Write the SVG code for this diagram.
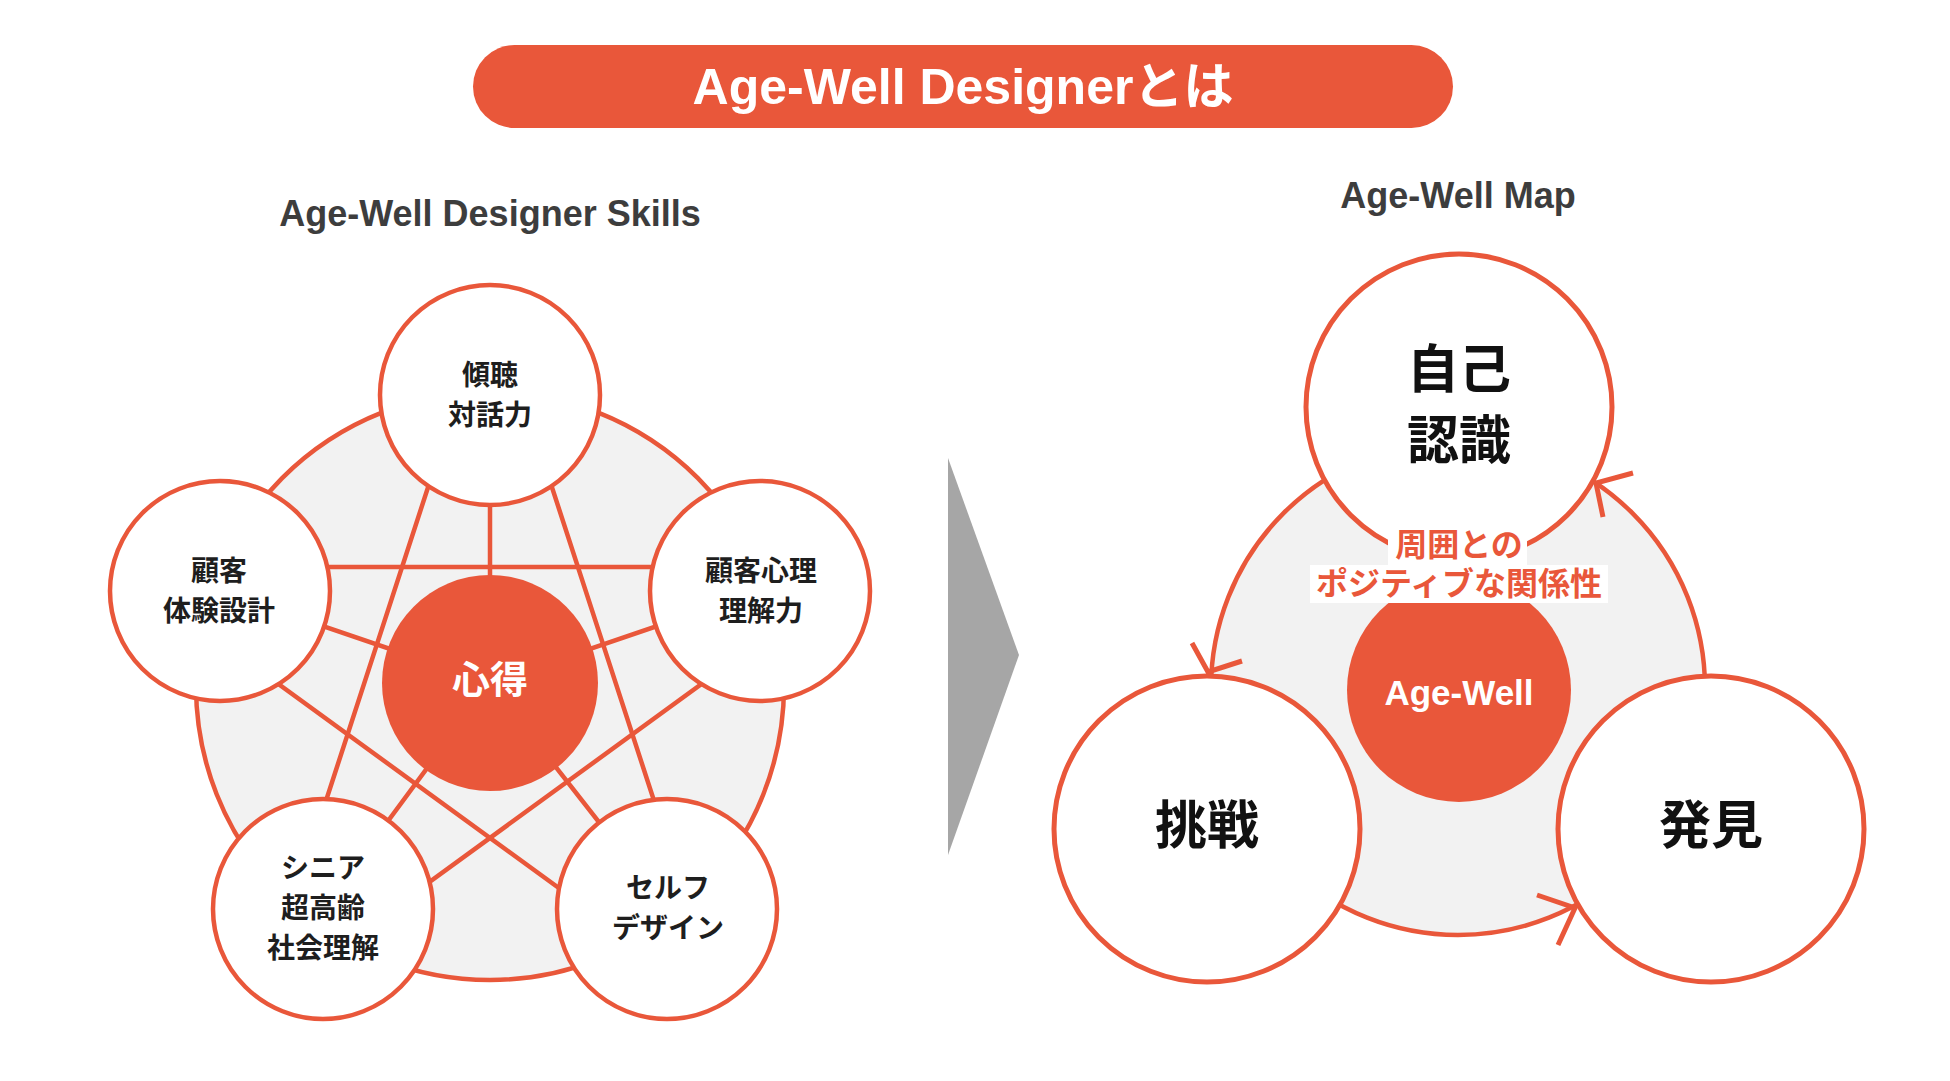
<svg xmlns="http://www.w3.org/2000/svg" width="1950" height="1081" viewBox="0 0 1950 1081">
<style>
.ln{stroke:#E9573A;stroke-width:4.5;fill:none;stroke-linecap:round}
.node{fill:#ffffff;stroke:#E9573A;stroke-width:4.5}
.bignode{fill:#ffffff;stroke:#E9573A;stroke-width:5}
.core{fill:#E9573A}
.bg{fill:#F2F2F2;stroke:#E9573A;stroke-width:4.5}
.lbl{font-family:"Noto Sans CJK JP","Noto Sans",sans-serif;font-weight:700;font-size:28px;fill:#1e1e1e;text-anchor:middle}
.big{font-family:"Noto Sans CJK JP","Noto Sans",sans-serif;font-weight:700;font-size:52px;fill:#111111;text-anchor:middle}
.head{font-family:"Liberation Sans","Noto Sans CJK JP",sans-serif;font-weight:700;font-size:36px;fill:#3d3d3d;text-anchor:middle}
.maplbl{font-family:"Noto Sans CJK JP",sans-serif;font-weight:700;font-size:32px;fill:#E9573A;text-anchor:middle}
.arrow{stroke:#E9573A;stroke-width:5;fill:none;stroke-linecap:butt;stroke-linejoin:miter}
</style>

<g id="title">
<rect x="473" y="45" width="980" height="83" rx="41.5" fill="#E9573A"/>
<text x="963" y="104" font-family="'Liberation Sans','Noto Sans CJK JP',sans-serif" font-weight="700" font-size="50" fill="#ffffff" text-anchor="middle">Age-Well Designerとは</text>
</g>

<g id="heading-skills"><text class="head" x="490" y="226">Age-Well Designer Skills</text></g>
<g id="heading-map"><text class="head" x="1458" y="208">Age-Well Map</text></g>

<!-- Left diagram -->
<g id="skills-background"><circle class="bg" cx="490" cy="686" r="294"/></g>
<g id="skills-connectors">
<line class="ln" x1="461" y1="386" x2="294" y2="899"/>
<line class="ln" x1="519" y1="386" x2="686" y2="899"/>
<line class="ln" x1="220" y1="567" x2="760" y2="567"/>
<line class="ln" x1="196" y1="624" x2="633" y2="942"/>
<line class="ln" x1="784" y1="624" x2="347" y2="942"/>
<line class="ln" x1="490" y1="683" x2="490" y2="395"/>
<line class="ln" x1="490" y1="683" x2="220" y2="591"/>
<line class="ln" x1="490" y1="683" x2="760" y2="591"/>
<line class="ln" x1="490" y1="683" x2="323" y2="909"/>
<line class="ln" x1="490" y1="683" x2="667" y2="909"/>
</g>
<g id="node-kokoroe">
<circle class="core" cx="490" cy="683" r="108"/>
<text x="490" y="693" font-family="'Noto Sans CJK JP',sans-serif" font-weight="700" font-size="38" fill="#ffffff" text-anchor="middle">心得</text>
</g>
<g id="node-keicho">
<circle class="node" cx="490" cy="395" r="110"/>
<text class="lbl" x="490" y="385">傾聴</text>
<text class="lbl" x="490" y="425">対話力</text>
</g>
<g id="node-kokyaku-taiken">
<circle class="node" cx="220" cy="591" r="110"/>
<text class="lbl" x="219" y="581">顧客</text>
<text class="lbl" x="219" y="621">体験設計</text>
</g>
<g id="node-kokyaku-shinri">
<circle class="node" cx="760" cy="591" r="110"/>
<text class="lbl" x="761" y="581">顧客心理</text>
<text class="lbl" x="761" y="621">理解力</text>
</g>
<g id="node-senior">
<circle class="node" cx="323" cy="909" r="110"/>
<text class="lbl" x="323" y="878">シニア</text>
<text class="lbl" x="323" y="918">超高齢</text>
<text class="lbl" x="323" y="958">社会理解</text>
</g>
<g id="node-selfdesign">
<circle class="node" cx="667" cy="909" r="110"/>
<text class="lbl" x="668" y="898">セルフ</text>
<text class="lbl" x="668" y="938">デザイン</text>
</g>

<!-- Middle arrow -->
<g id="transition-arrow"><polygon points="948,458 1019,655 948,855" fill="#A6A6A6"/></g>

<!-- Right diagram -->
<g id="map-background"><circle class="bg" cx="1458" cy="688" r="247" stroke-width="5"/></g>
<g id="node-agewell">
<circle class="core" cx="1459" cy="690" r="112"/>
<text x="1459" y="705" font-family="'Liberation Sans',sans-serif" font-weight="700" font-size="35" fill="#ffffff" text-anchor="middle">Age-Well</text>
</g>
<g id="node-jiko">
<circle class="bignode" cx="1459" cy="407" r="153"/>
<text class="big" x="1459" y="388">自己</text>
<text class="big" x="1459" y="459">認識</text>
</g>
<g id="node-chosen">
<circle class="bignode" cx="1207" cy="829" r="153"/>
<text class="big" x="1207" y="844">挑戦</text>
</g>
<g id="node-hakken">
<circle class="bignode" cx="1711" cy="829" r="153"/>
<text class="big" x="1711" y="844">発見</text>
</g>
<g id="map-label">
<rect x="1388" y="527" width="139" height="38" fill="#ffffff"/>
<rect x="1310" y="565" width="298" height="38" fill="#ffffff"/>
<text class="maplbl" x="1459" y="556">周囲との</text>
<text class="maplbl" x="1459" y="595">ポジティブな関係性</text>
</g>
<g id="map-connectors">
<polyline class="arrow" points="1633,473 1596,483 1603,517"/>
<polyline class="arrow" points="1192,643 1208,672 1242,661"/>
<polyline class="arrow" points="1537,895 1575,908 1558,945"/>
</g>
</svg>
